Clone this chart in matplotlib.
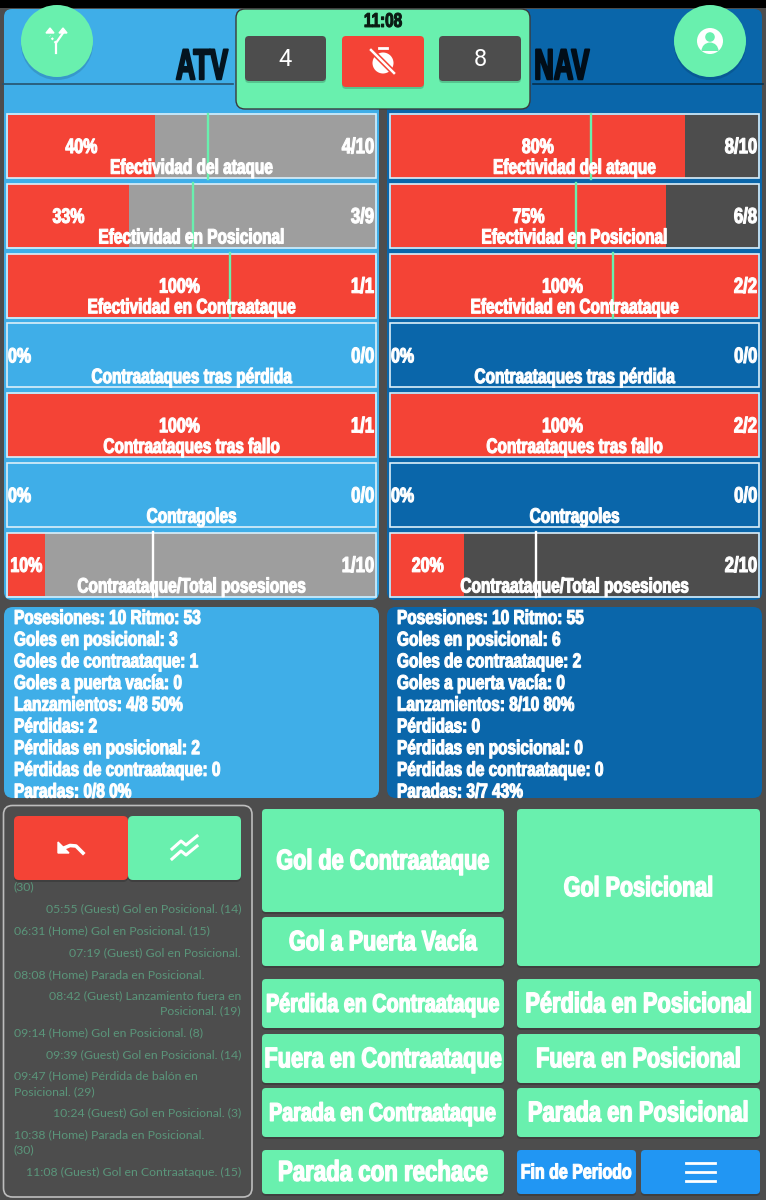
import matplotlib
matplotlib.use('Agg')
import matplotlib.pyplot as plt
import matplotlib.patheffects as pe
from matplotlib.patches import FancyBboxPatch, Circle, Rectangle, Wedge
from matplotlib.transforms import Affine2D

# colours of the app
green = '#69F0AE'
red = '#F44336'
dark = '#4D4D4D'
grey = '#9E9E9E'
blue = '#2196F3'
home_bg = '#3FAEE8'
guest_bg = '#0A66AA'
log_col = '#5A957A'

# data
row_titles = ['Efectividad del ataque', 'Efectividad en Posicional', 'Efectividad en Contraataque',
              'Contraataques tras pérdida', 'Contraataques tras fallo', 'Contragoles',
              'Contraataque/Total posesiones']
home_pct = [40, 33, 100, 0, 100, 0, 10]
guest_pct = [80, 75, 100, 0, 100, 0, 20]
home_frac = ['4/10', '3/9', '1/1', '0/0', '1/1', '0/0', '1/10']
guest_frac = ['8/10', '6/8', '2/2', '0/0', '2/2', '0/0', '2/10']
# the thin vertical marks in the bars, in percent of the bar
home_marks = [54.5, 50.5, 60.5, None, None, None, 39.5]
guest_marks = [54.5, 50.5, 60.5, None, None, None, 39.5]
mark_cols = [green, green, green, None, None, None, 'white']

home_stats = ['Posesiones: 10 Ritmo: 53', 'Goles en posicional: 3', 'Goles de contraataque: 1',
              'Goles a puerta vacía: 0', 'Lanzamientos: 4/8 50%', 'Pérdidas: 2',
              'Pérdidas en posicional: 2', 'Pérdidas de contraataque: 0', 'Paradas: 0/8 0%']
guest_stats = ['Posesiones: 10 Ritmo: 55', 'Goles en posicional: 6', 'Goles de contraataque: 2',
               'Goles a puerta vacía: 0', 'Lanzamientos: 8/10 80%', 'Pérdidas: 0',
               'Pérdidas en posicional: 0', 'Pérdidas de contraataque: 0', 'Paradas: 3/7 43%']

log_lines = [('(30)', 'left', 887), ('05:55 (Guest) Gol en Posicional. (14)', 'right', 909),
             ('06:31 (Home) Gol en Posicional. (15)', 'left', 931),
             ('07:19 (Guest) Gol en Posicional.', 'right', 953),
             ('08:08 (Home) Parada en Posicional.', 'left', 975),
             ('08:42 (Guest) Lanzamiento fuera en', 'right', 996),
             ('Posicional. (19)', 'right', 1011),
             ('09:14 (Home) Gol en Posicional. (8)', 'left', 1033),
             ('09:39 (Guest) Gol en Posicional. (14)', 'right', 1055),
             ('09:47 (Home) Pérdida de balón en', 'left', 1076),
             ('Posicional. (29)', 'left', 1092),
             ('10:24 (Guest) Gol en Posicional. (3)', 'right', 1113),
             ('10:38 (Home) Parada en Posicional.', 'left', 1135),
             ('(30)', 'left', 1150),
             ('11:08 (Guest) Gol en Contraataque. (15)', 'right', 1172)]

# label, x0, y0, x1, y1, font size
buttons = [('Gol de Contraataque', 262, 809, 504, 912, 15.6),
           ('Gol a Puerta Vacía', 262, 917, 504, 966, 15.5),
           ('Gol Posicional', 517, 809, 760, 966, 15.5),
           ('Pérdida en Contraataque', 262, 979, 504, 1028, 14.2),
           ('Pérdida en Posicional', 517, 979, 760, 1028, 15.7),
           ('Fuera en Contraataque', 262, 1034, 504, 1083, 15.7),
           ('Fuera en Posicional', 517, 1034, 760, 1083, 15.6),
           ('Parada en Contraataque', 262, 1088, 504, 1137, 14.2),
           ('Parada en Posicional', 517, 1088, 760, 1137, 15.8),
           ('Parada con rechace', 262, 1150, 504, 1194, 16)]


class Tall(pe.AbstractPathEffect):
    # heavy condensed look: stretch the glyphs upward around mid cap height and thicken them
    def __init__(self, sy, width):
        super().__init__()
        self.sy = sy
        self.width = width

    def draw_path(self, renderer, gc, tpath, affine, rgbFace=None):
        gc0 = renderer.new_gc()
        gc0.copy_properties(gc)
        gc0.set_linewidth(self.width)
        gc0.set_foreground(rgbFace)
        tall = Affine2D().translate(0, -36).scale(1, self.sy).translate(0, 36) + affine
        renderer.draw_path(gc0, tpath, tall, rgbFace)
        gc0.restore()


fig = plt.figure(figsize=(7.66, 12), dpi=100, facecolor=dark)
ax = fig.add_axes([0, 0, 1, 1])
ax.set_xlim(0, 766)
ax.set_ylim(1200, 0)
ax.axis('off')


def box(x0, y0, x1, y1, col, r=6, ec='none', lw=0, z=1, shadow=False):
    if shadow:
        ax.add_patch(FancyBboxPatch((x0, y0 + 2), x1 - x0, y1 - y0, boxstyle=f'round,pad=0,rounding_size={r}',
                                    fc='black', ec='none', alpha=0.18, zorder=z))
    p = FancyBboxPatch((x0, y0), x1 - x0, y1 - y0, boxstyle=f'round,pad=0,rounding_size={r}',
                       fc=col, ec=ec, lw=lw, zorder=z)
    ax.add_patch(p)
    return p


def label(x, y, s, size, col='white', ha='center', z=6, sy=1.3, stroke=0.8, clip=None):
    t = ax.text(x, y + 0.14 * size - 1.3, s, fontsize=size, color=col, ha=ha, va='center', family='Liberation Sans',
                fontweight='bold', zorder=z)
    t.set_path_effects([Tall(sy, stroke)])
    if clip is not None:
        t.set_clip_path(clip)
    return t


# top strip and team panels
ax.add_patch(Rectangle((0, 0), 766, 8, fc='black', ec='none', zorder=0))
box(4, 9, 379, 600, home_bg, r=8)
box(387, 9, 762, 600, guest_bg, r=8)
ax.plot([3, 233], [84, 84], color='#26536E', lw=1.2, zorder=2)
ax.plot([533, 763], [84, 84], color='#06304F', lw=1.2, zorder=2)
label(202, 65, 'ATV', 19.5, col='#04141F', sy=1.6, stroke=1.4)
label(562, 65, 'NAV', 19.5, col='#010D18', sy=1.6, stroke=1.4)

# score card
box(236, 9, 530, 109, green, r=9, ec='#3A3A3A', lw=1, z=3)
label(383, 21, '11:08', 11, col='#0A1A12', z=5)
box(245, 36, 326, 81, dark, r=4, z=4, shadow=True)
box(439, 36, 521, 81, dark, r=4, z=4, shadow=True)
box(342, 36, 424, 87, red, r=4, z=4, shadow=True)
ax.text(285, 59, '4', fontsize=17, color='white', ha='center', va='center', family='Roboto', zorder=6)
ax.text(480, 59, '8', fontsize=17, color='white', ha='center', va='center', family='Roboto', zorder=6)

# timer off icon
ax.add_patch(Circle((383, 63), 10.5, fc='white', ec='none', zorder=6))
ax.plot([379, 387], [48, 48], color='white', lw=2, zorder=6)
ax.plot([371, 395], [50, 74], color=red, lw=4, zorder=7)
ax.plot([371, 394], [50, 73], color='white', lw=1.8, zorder=8)

# round buttons
for cx in [57, 710]:
    ax.add_patch(Circle((cx, 44), 36, fc='black', ec='none', alpha=0.12, zorder=5))
    ax.add_patch(Circle((cx, 41), 36, fc=green, ec='none', zorder=6))
# merge arrows icon
ax.plot([56, 56, 63], [53, 43, 33], color='white', lw=1.6, zorder=7)
ax.plot([56, 50], [43, 36], color='white', lw=1.6, ls=(0, (1, 1)), zorder=7)
ax.fill([46, 54, 50], [33, 33, 28], color='white', zorder=7)
ax.fill([59, 67, 63], [33, 33, 28], color='white', zorder=7)
# person icon
ax.add_patch(Circle((710, 41), 13, fc='white', ec='none', zorder=7))
ax.add_patch(Circle((710, 37), 4.8, fc=green, ec='none', zorder=8))
ax.add_patch(Wedge((710, 51), 8.5, 180, 360, fc=green, ec='none', zorder=8))

# stat bars
bar_w = 367
row_top = 114.5
row_step = 69.8
row_h = 63
for team_x, pct, fracs, marks, rest in [(8, home_pct, home_frac, home_marks, grey),
                                        (391, guest_pct, guest_frac, guest_marks, dark)]:
    for i, title in enumerate(row_titles):
        top = row_top + i * row_step
        if fracs[i] != '0/0':
            ax.barh(top, bar_w, height=row_h, left=team_x, align='edge', color=rest, zorder=2)
        ax.barh(top, pct[i] / 100 * bar_w, height=row_h, left=team_x, align='edge', color=red, zorder=3)
        ax.add_patch(Rectangle((team_x - 1.2, top - 0.5), bar_w + 2.4, row_h + 1, fc='none', ec='#DCEFFA',
                               lw=1.2, zorder=4))
        if marks[i] is not None:
            mx = team_x + marks[i] / 100 * bar_w
            ax.plot([mx, mx], [top - 1, top + row_h + 1], color=mark_cols[i], lw=1.7, zorder=5)
        y_pct = top + 32
        if pct[i] == 0:
            label(team_x, y_pct, '0%', 11.5, ha='left')
        elif pct[i] == 100:
            label(team_x + pct[i] / 200 * bar_w - 12, y_pct, '100%', 11.5)
        else:
            label(team_x + pct[i] / 200 * bar_w, y_pct, f'{pct[i]}%', 11.5)
        label(team_x + bar_w - 1, y_pct, fracs[i], 12, ha='right')
        label(team_x + bar_w / 2, top + 53, title, 11.1, sy=1.35)

# stats text
for x0, x1, col, lines in [(4, 379, home_bg, home_stats), (387, 762, guest_bg, guest_stats)]:
    panel = box(x0, 607, x1, 798, col, r=9)
    for i, s in enumerate(lines):
        label(x0 + 10, 618 + i * 21.7, s, 11.1, ha='left', clip=panel)

# log panel
box(3.5, 805.5, 252, 1197, dark, r=9, ec='#BDBDBD', lw=1.2)
for s, ha, y in log_lines:
    x = 14 if ha == 'left' else 241
    ax.text(x, y, s, fontsize=8.8, color=log_col, ha=ha, va='center', family='Lato', zorder=3)
box(14, 816, 128, 880, red, r=5, z=4, shadow=True)
box(128, 816, 241, 880, green, r=5, z=4, shadow=True)
# undo icon
ax.plot([64, 70, 76, 83], [848, 845.5, 846, 853], color='white', lw=2.6, zorder=6)
ax.fill([58, 69, 58], [842, 853, 853], color='white', zorder=6)
# trending icon
ax.plot([172, 181, 186, 197], [849, 841, 845, 836], color='white', lw=2.2, zorder=6)
ax.plot([172, 181, 186, 197], [859, 851, 855, 846], color='white', lw=2.2, zorder=6)

# action buttons
for s, x0, y0, x1, y1, size in buttons:
    box(x0, y0, x1, y1, green, r=4, z=2, shadow=True)
    label((x0 + x1) / 2, (y0 + y1) / 2, s, size, z=3, stroke=1.0)
box(517, 1150, 636, 1194, blue, r=4, z=2, shadow=True)
label(576.5, 1172, 'Fin de Periodo', 11.5, z=3, sy=1.3)
box(641, 1150, 760, 1194, blue, r=4, z=2, shadow=True)
for y in [1163, 1172, 1181]:
    ax.plot([686, 715], [y, y], color='white', lw=2, zorder=3)

fig.savefig('out.png', dpi=100, facecolor=dark)
